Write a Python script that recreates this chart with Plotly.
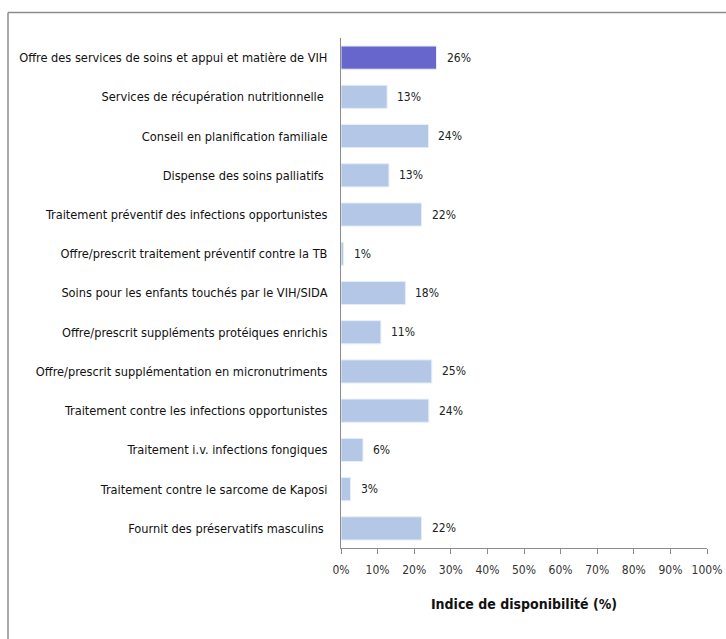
# Indice de disponibilité des services (barres horizontales)

import plotly.graph_objects as go

categories = [
    "Offre des services de soins et appui et matière de VIH",
    "Services de récupération nutritionnelle ",
    "Conseil en planification familiale",
    "Dispense des soins palliatifs ",
    "Traitement préventif des infections opportunistes",
    "Offre/prescrit traitement préventif contre la TB",
    "Soins pour les enfants touchés par le VIH/SIDA",
    "Offre/prescrit suppléments protéiques enrichis",
    "Offre/prescrit supplémentation en micronutriments",
    "Traitement contre les infections opportunistes",
    "Traitement i.v. infections fongiques",
    "Traitement contre le sarcome de Kaposi",
    "Fournit des préservatifs masculins ",
]
values = [26.1, 12.6, 23.9, 13.1, 22.0, 0.7, 17.6, 10.9, 24.8, 24.0, 6.0, 2.6, 22.0]
tick_vals = [0, 10, 20, 30, 40, 50, 60, 70, 80, 90, 100]
tick_text = [f"{v}%" for v in tick_vals]

FONT = "Liberation Sans Narrow, Arial Narrow, DejaVu Sans Condensed, sans-serif"
HIGHLIGHT = "#6666CC"
BASE = "#B4C7E7"

colors = [HIGHLIGHT] + [BASE] * (len(values) - 1)

fig = go.Figure()
fig.add_trace(go.Bar(
    x=values, y=categories, orientation="h",
    marker=dict(color=colors, line=dict(color="#E6EEF8", width=1)),
    hoverinfo="skip",
))

for cat, v in zip(categories, values):
    fig.add_annotation(x=v, y=cat, text=f"{v:.0f}%", showarrow=False,
                       xanchor="left", xshift=8,
                       font=dict(family=FONT, size=12, color="#222"))

# cadre gris (haut et gauche)
fig.add_shape(type="line", xref="paper", yref="paper",
              x0=(8 - 341) / 366, x1=(726 - 341) / 366,
              y0=1 + 25.5 / 509.5, y1=1 + 25.5 / 509.5,
              line=dict(color="#8C8C8C", width=1.5))
fig.add_shape(type="line", xref="paper", yref="paper",
              x0=(8 - 341) / 366, x1=(8 - 341) / 366,
              y0=1 + 25.5 / 509.5, y1=-100 / 509.5,
              line=dict(color="#8C8C8C", width=1.5))

fig.update_xaxes(
    range=[0, 100], tickvals=tick_vals, ticktext=tick_text, tickangle=0,
    ticks="outside", ticklen=5, tickcolor="#8C8C8C", ticklabelstandoff=6,
    showline=True, linecolor="#8C8C8C", linewidth=1,
    showgrid=False, zeroline=False, automargin=False,
    tickfont=dict(family=FONT, size=12, color="#333"),
    title=dict(text="<b>Indice de disponibilité (%)</b>", standoff=22,
               font=dict(family=FONT, size=14, color="#111")),
)
fig.update_yaxes(
    autorange="reversed", showline=True, linecolor="#8C8C8C", linewidth=1,
    ticks="", showgrid=False, ticklabelstandoff=10, automargin=False,
    tickfont=dict(family=FONT, size=12.7, color="#111"),
)
fig.update_layout(
    width=726, height=639,
    bargap=0.41, showlegend=False,
    margin=dict(l=341, r=19, t=38, b=91),
    paper_bgcolor="white", plot_bgcolor="white",
)
fig.write_html("out.html", config={"displayModeBar": False},
               post_script="document.body.style.margin='0';")
